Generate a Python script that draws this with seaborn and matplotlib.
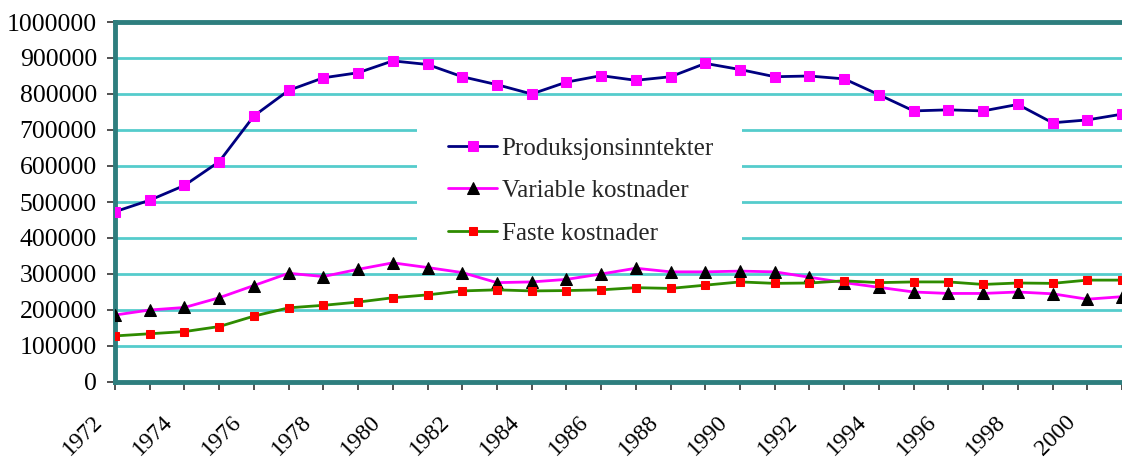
import numpy as np
import pandas as pd
import matplotlib
matplotlib.use("Agg")
import matplotlib.pyplot as plt
import matplotlib.transforms as mtransforms
from matplotlib.patches import Rectangle
import seaborn as sns

sns.set_theme(style="white")
plt.rcParams['font.family'] = ['Liberation Serif', 'DejaVu Serif']

# data
years = list(range(1972, 2002))
produksjonsinntekter = [473000, 505000, 546000, 612000, 739000, 810000, 845000, 859000,
                        892000, 882000, 848000, 826000, 800000, 833000, 851000, 838000,
                        848000, 885000, 868000, 848000, 850000, 842000, 798000, 753000,
                        756000, 753000, 771000, 720000, 728000, 744000]
variable_kostnader = [186000, 200000, 207000, 234000, 268000, 302000, 293000, 313000,
                      331000, 318000, 304000, 276000, 278000, 285000, 300000, 316000,
                      306000, 306000, 308000, 306000, 291000, 276000, 263000, 250000,
                      246000, 246000, 250000, 245000, 230000, 237000]
faste_kostnader = [128000, 134000, 140000, 154000, 183000, 206000, 213000, 222000,
                   234000, 242000, 253000, 256000, 253000, 254000, 256000, 262000,
                   260000, 269000, 278000, 274000, 275000, 281000, 276000, 278000,
                   278000, 271000, 275000, 274000, 283000, 283000]

df = pd.DataFrame({'year': years,
                   'Produksjonsinntekter': produksjonsinntekter,
                   'Variable kostnader': variable_kostnader,
                   'Faste kostnader': faste_kostnader})

W, H = 1122, 458
fig = plt.figure(figsize=(W / 100, H / 100), dpi=100)
ax = fig.add_axes([115 / W, 76 / H, (1122 - 115) / W, 360 / H])

teal = '#2E7E7E'
grid_c = '#55CCCC'

sns.lineplot(data=df, x='year', y='Produksjonsinntekter', ax=ax, color='#000080',
             lw=2.0, marker='s', markersize=7.5, markerfacecolor='#FF00FF',
             markeredgecolor='#FF00FF', label='Produksjonsinntekter', zorder=4)
sns.lineplot(data=df, x='year', y='Variable kostnader', ax=ax, color='#FF00FF',
             lw=2.0, marker='^', markersize=8.5, markerfacecolor='black',
             markeredgecolor='black', label='Variable kostnader', zorder=4)
sns.lineplot(data=df, x='year', y='Faste kostnader', ax=ax, color='#2E8B00',
             lw=2.0, marker='s', markersize=6, markerfacecolor='#FF0000',
             markeredgecolor='#FF0000', label='Faste kostnader', zorder=4)

ax.set_xlim(1972, 2001)
ax.set_ylim(0, 1000000)
ax.set_yticks(np.arange(0, 1000001, 100000))
ax.set_yticklabels([str(v) for v in range(0, 1000001, 100000)])
ax.set_xticks(years)
ax.set_xticklabels([str(y) if (y - 1972) % 2 == 0 else '' for y in years],
                   rotation=45, ha='right')
ax.set_xlabel('')
ax.set_ylabel('')

ax.yaxis.grid(True, color=grid_c, lw=2.0)
ax.xaxis.grid(False)
ax.set_axisbelow(True)

for side in ['left', 'bottom', 'top']:
    ax.spines[side].set_color(teal)
    ax.spines[side].set_linewidth(3.5)
ax.spines['right'].set_visible(False)

ax.tick_params(axis='y', which='major', left=True, length=6, width=1.2, color='#333333',
               pad=7, labelsize=18.5, labelcolor='black')
ax.tick_params(axis='x', which='major', bottom=True, length=6, width=1.2, color='#333333',
               pad=15, labelsize=17, labelcolor='black')
offset = mtransforms.ScaledTranslation(-8 / 100, 0, fig.dpi_scale_trans)
for lab in ax.get_xticklabels():
    lab.set_transform(lab.get_transform() + offset)

# white box behind the legend
ax.add_patch(Rectangle((0.300, 0.353), 0.323, 0.389, transform=ax.transAxes,
                       facecolor='white', edgecolor='none', zorder=1))
leg = ax.legend(loc='upper left', bbox_to_anchor=(0.331, 0.68), frameon=False,
                fontsize=18, handlelength=1.95, handletextpad=0.18,
                labelspacing=0.8, borderpad=0, borderaxespad=0)
leg.set_zorder(5)

fig.savefig('out.png', dpi=100)
